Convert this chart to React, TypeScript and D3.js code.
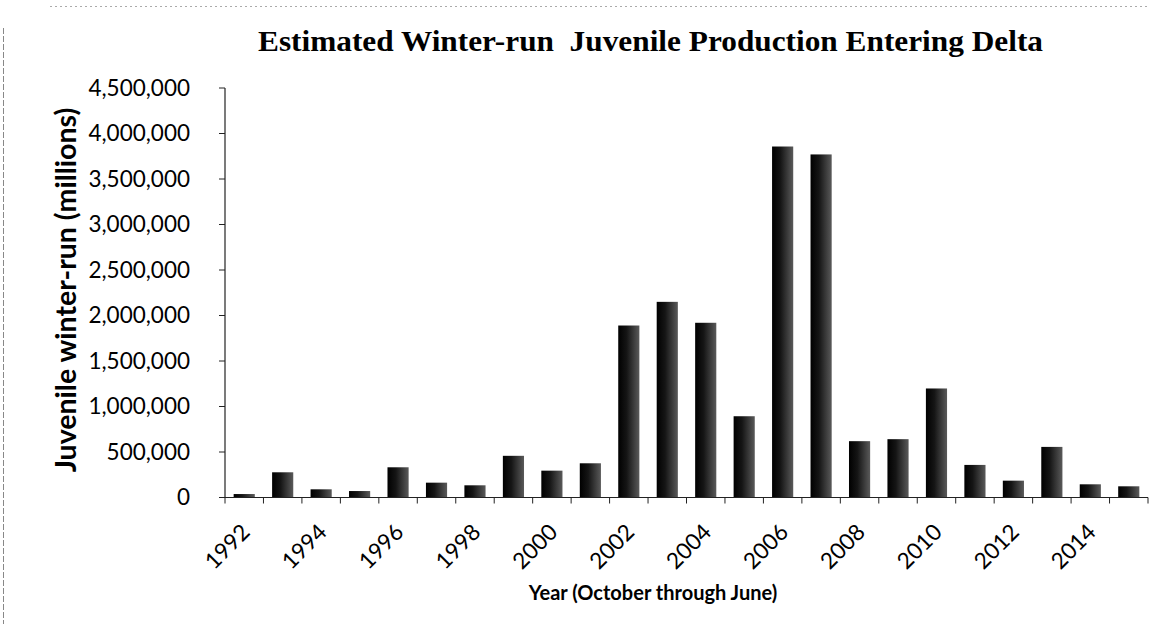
import React from "react";
import * as d3 from "d3";

const years: string[] = [
  "1992","1993","1994","1995","1996","1997","1998","1999","2000","2001","2002","2003",
  "2004","2005","2006","2007","2008","2009","2010","2011","2012","2013","2014","2015",
];
const production: number[] = [
  38000, 277000, 90000, 71000, 332000, 163000, 134000, 458000, 295000, 376000, 1890000, 2150000,
  1920000, 893000, 3857000, 3770000, 619000, 641000, 1198000, 358000, 185000, 556000, 145000, 123000,
];
const yTicks: number[] = [0, 500000, 1000000, 1500000, 2000000, 2500000, 3000000, 3500000, 4000000, 4500000];
const labeledYears: string[] = ["1992","1994","1996","1998","2000","2002","2004","2006","2008","2010","2012","2014"];

const title = "Estimated Winter-run  Juvenile Production Entering Delta";
const yTitle = "Juvenile winter-run (millions)";
const xTitle = "Year (October through June)";

export default function App() {
  const W = 1161, H = 624;
  const left = 225, right = 1148, top = 88, bottom = 497.5;
  const x = d3.scaleBand<string>().domain(years).range([left, right]).paddingInner(0.45).paddingOuter(0.225);
  const y = d3.scaleLinear().domain([0, 4500000]).range([bottom, top]);
  const fmt = d3.format(",");
  const boundaries = d3.range(years.length + 1).map((i) => left + i * (right - left) / years.length);
  const sans = "Lato, 'Open Sans', sans-serif";

  return (
    <svg width={W} height={H} style={{ position: "absolute", left: 0, top: 0, background: "#fff" }}>
      <defs>
        <linearGradient id="barg" x1="0" x2="1" y1="0" y2="0">
          <stop offset="0" stopColor="#000" />
          <stop offset="0.4" stopColor="#151515" />
          <stop offset="1" stopColor="#5a5a5a" />
        </linearGradient>
      </defs>
      {/* scan border artifacts */}
      <line x1={3.5} x2={3.5} y1={28} y2={624} stroke="#888" strokeWidth={1} strokeDasharray="6 2" />
      <line x1={50} x2={1150} y1={6.5} y2={6.5} stroke="#aaa" strokeWidth={1} strokeDasharray="2 3" />

      <text x={258} y={51} textLength={785} lengthAdjust="spacingAndGlyphs" style={{ whiteSpace: "pre" }}
        fontFamily="'Liberation Serif', 'Times New Roman', serif" fontWeight="bold" fontSize={29} fill="#000">
        {title}
      </text>

      {/* y axis */}
      <line x1={left} x2={left} y1={top} y2={bottom} stroke="#222" strokeWidth={1.2} />
      {yTicks.map((t) => (
        <g key={t}>
          <line x1={left - 6} x2={left} y1={y(t)} y2={y(t)} stroke="#222" strokeWidth={1} />
          <text x={190} y={y(t)} dy="0.35em" textAnchor="end" fontFamily={sans} fontSize={22.5} fill="#000">
            {fmt(t)}
          </text>
        </g>
      ))}
      <text transform={`translate(66,290) rotate(-90)`} textAnchor="middle" dy="0.35em" fontFamily={sans} fontWeight="bold" fontSize={28.5} fill="#000">
        {yTitle}
      </text>

      {/* bars */}
      {years.map((yr, i) => (
        <rect key={yr} x={x(yr)} y={y(production[i])} width={x.bandwidth()} height={bottom - y(production[i])} fill="url(#barg)" />
      ))}

      {/* x axis */}
      <line x1={left} x2={right} y1={bottom} y2={bottom} stroke="#222" strokeWidth={1.2} />
      {boundaries.map((b, i) => (
        <line key={i} x1={b} x2={b} y1={bottom} y2={bottom + 6} stroke="#222" strokeWidth={1} />
      ))}
      {labeledYears.map((yr) => {
        const cx = (x(yr) as number) + x.bandwidth() / 2;
        return (
          <text key={yr} transform={`translate(${cx + 7},${bottom + 36}) rotate(-45)`} textAnchor="end" fontFamily={sans} fontSize={22.5} fill="#000">
            {yr}
          </text>
        );
      })}
      <text x={653} y={600} textAnchor="middle" fontFamily={sans} fontWeight="bold" fontSize={20} fill="#000">
        {xTitle}
      </text>
    </svg>
  );
}
